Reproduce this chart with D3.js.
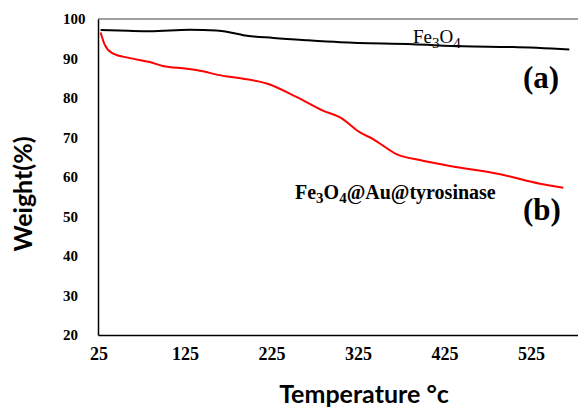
<!DOCTYPE html>
<html>
<head>
<meta charset="utf-8">
<script src="https://cdn.jsdelivr.net/npm/d3@7"></script>
<style>
  body { margin: 0; background: #fff; }
  svg { display: block; }
</style>
</head>
<body>
<div id="chart"></div>
<script>
// TGA data
var tempFe = [28, 60, 85, 131, 162, 178, 193, 228, 267, 305, 389, 447, 505, 570];
var weightFe = [97.2, 97.0, 96.9, 97.3, 97.1, 96.6, 95.9, 95.2, 94.6, 94.1, 93.6, 93.1, 92.9, 92.3];

var tempAu = [28, 33, 42, 62, 85, 100, 128, 140, 170, 193, 221, 255, 285, 305, 328, 343, 372, 397, 432, 490, 536, 563];
var weightAu = [96.6, 93.4, 91.3, 90.1, 89.1, 88.1, 87.4, 87.0, 85.6, 84.9, 83.6, 80.2, 76.8, 75.1, 71.3, 69.6, 65.6, 64.3, 62.8, 60.7, 58.3, 57.3];

var xTicks = [25, 125, 225, 325, 425, 525];
var yTicks = [20, 30, 40, 50, 60, 70, 80, 90, 100];

var width = 578, height = 408;
var margin = {top: 19, right: 578, bottom: 335, left: 98};

var x = d3.scaleLinear().domain([25, 580]).range([margin.left, margin.right]);
var y = d3.scaleLinear().domain([20, 100]).range([margin.bottom, margin.top]);

var svg = d3.select("#chart").append("svg")
    .attr("width", width)
    .attr("height", height);

// frame: grey top, black left + bottom
svg.append("line")
    .attr("x1", margin.left).attr("x2", margin.right)
    .attr("y1", margin.top).attr("y2", margin.top)
    .style("stroke", "#808080").style("stroke-width", 1.5);

svg.append("g")
    .attr("class", "axis")
    .attr("transform", "translate(" + margin.left + ",0)")
    .call(d3.axisLeft(y).tickValues(yTicks).tickSize(0).tickFormat(""));

svg.append("g")
    .attr("class", "axis")
    .attr("transform", "translate(0," + margin.bottom + ")")
    .call(d3.axisBottom(x).tickValues(xTicks).tickSize(0).tickFormat(""));

d3.selectAll(".axis path")
    .style("stroke", "#000")
    .style("stroke-width", 1.5);

// tick labels (left aligned, Excel style)
svg.selectAll(".ylab")
    .data(yTicks)
  .enter().append("text")
    .attr("class", "ylab")
    .attr("x", 63)
    .attr("y", function(d) { return y(d) + 5; })
    .style("font", "bold 15px 'Liberation Serif', serif")
    .text(function(d) { return d; });

svg.selectAll(".xlab")
    .data(xTicks)
  .enter().append("text")
    .attr("class", "xlab")
    .attr("x", function(d) { return x(d) + 1; })
    .attr("y", 360)
    .style("text-anchor", "middle")
    .style("font", "bold 18px 'Liberation Serif', serif")
    .text(function(d) { return d; });

// axis titles
svg.append("text")
    .attr("x", 364)
    .attr("y", 403)
    .style("text-anchor", "middle")
    .style("font", "bold 25px Lato, sans-serif")
    .text("Temperature °c");

svg.append("text")
    .attr("transform", "translate(32,194) rotate(-90)")
    .style("text-anchor", "middle")
    .style("font", "bold 25px Lato, sans-serif")
    .text("Weight(%)");

// curves
var line = d3.line()
    .x(function(d) { return x(d[0]); })
    .y(function(d) { return y(d[1]); })
    .curve(d3.curveMonotoneX);

svg.append("path")
    .datum(d3.zip(tempFe, weightFe))
    .attr("d", line)
    .style("fill", "none")
    .style("stroke", "#000")
    .style("stroke-width", 2);

svg.append("path")
    .datum(d3.zip(tempAu, weightAu))
    .attr("d", line)
    .style("fill", "none")
    .style("stroke", "#ff0000")
    .style("stroke-width", 2);

// labels
var fe = svg.append("text")
    .attr("x", 413)
    .attr("y", 43)
    .style("font", "19px 'Liberation Serif', serif");
fe.append("tspan").text("Fe");
fe.append("tspan").attr("dy", 5).style("font-size", "15px").text("3");
fe.append("tspan").attr("dy", -5).text("O");
fe.append("tspan").attr("dy", 5).style("font-size", "15px").text("4");

var au = svg.append("text")
    .attr("x", 295)
    .attr("y", 199)
    .style("font", "bold 20px 'Liberation Serif', serif");
au.append("tspan").text("Fe");
au.append("tspan").attr("dy", 4).style("font-size", "15px").text("3");
au.append("tspan").attr("dy", -4).text("O");
au.append("tspan").attr("dy", 4).style("font-size", "15px").text("4");
au.append("tspan").attr("dy", -4).text("@Au@tyrosinase");

svg.append("text")
    .attr("x", 523)
    .attr("y", 88)
    .style("font", "bold 31px 'Liberation Serif', serif")
    .text("(a)");

svg.append("text")
    .attr("x", 523)
    .attr("y", 220)
    .style("font", "bold 31px 'Liberation Serif', serif")
    .text("(b)");
</script>
</body>
</html>
